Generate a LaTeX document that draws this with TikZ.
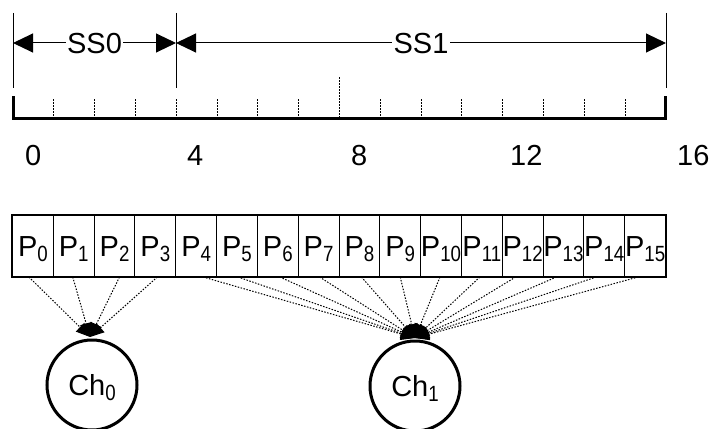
\documentclass[tikz,border=0pt]{standalone}
\usepackage{fontspec}
\setmainfont{Liberation Sans}
\usetikzlibrary{arrows.meta}
% letter with a lowered, smaller, slightly narrowed index
\newcommand\withsub[2]{#1\raisebox{-5pt}{\scalebox{0.85}[1]{\fontsize{22}{22}\selectfont #2}}}
\begin{document}
\begin{tikzpicture}[x=1pt,y=-1pt,
  font=\fontsize{29}{31}\selectfont,
  boundary/.style={line width=1pt},
  span/.style={line width=1pt,{Triangle[length=20pt,width=19pt]}-{Triangle[length=20pt,width=19pt]}},
  spanlabel/.style={fill=white,inner sep=1.5pt,text height=21pt,text depth=0pt},
  ticklabel/.style={anchor=base west,inner sep=0pt},
  minortick/.style={line width=1pt,dash pattern=on 1.5pt off 1.5pt},
  rulerline/.style={line width=3pt},
  cell/.style={draw,line width=1pt,minimum width=40.8125pt,minimum height=61pt,
    inner sep=0pt,anchor=north west,text height=21pt,text depth=0pt},
  channel/.style={draw,circle,line width=3pt,minimum size=90pt,inner sep=0pt,
    text height=21pt,text depth=0pt},
  feed/.style={line width=1pt,dash pattern=on 1.5pt off 1.5pt,
    -{Triangle[length=14pt,width=12pt]}}]

\useasboundingbox (0,0) rectangle (714,428);

% --- subset boundaries and their spans ---
\coordinate (b0top) at (13,13);   \coordinate (b0bot) at (13,88);
\coordinate (b1top) at (176,13);  \coordinate (b1bot) at (176,88);
\coordinate (b2top) at (666,13);  \coordinate (b2bot) at (666,88);
\draw[boundary] (b0top) -- (b0bot);
\draw[boundary] (b1top) -- (b1bot);
\draw[boundary] (b2top) -- (b2bot);

\coordinate (s0a) at (13,43);
\coordinate (s0b) at (176,43);
\coordinate (s1a) at (176,43);
\coordinate (s1b) at (666,43);
\draw[span] (s0a) -- node[spanlabel] (ss0) {SS0} (s0b);
\draw[span] (s1a) -- node[spanlabel] (ss1) {SS1} (s1b);

% --- ruler ---
\coordinate (rl) at (13.5,96);
\coordinate (rr) at (665.5,96);
\draw[rulerline] (rl) -- (13.5,118.5) -- (665.5,118.5) -- (rr);
\foreach \i in {1,...,15}{
  \ifnum\i=8
    \draw[minortick] (13+40.8125*\i,77) -- (13+40.8125*\i,117);
  \else
    \draw[minortick] (13+40.8125*\i,99) -- (13+40.8125*\i,117);
  \fi
}
\node[ticklabel] (n0)  at (25,165)  {0};
\node[ticklabel] (n4)  at (187,165) {4};
\node[ticklabel] (n8)  at (351,165) {8};
\node[ticklabel] (n12) at (510,165) {12};
\node[ticklabel] (n16) at (677,165) {16};

% --- partitions ---
\foreach \i in {0,...,15}{
  \node[cell] (p\i) at (12+40.8125*\i,215) {\withsub{P}{\i}};
}
\draw[line width=1.8pt] (p0.north west) rectangle (p15.south east);

% --- channels ---
\node[channel] (ch0) at (92,385) {\withsub{Ch}{0}};
\node[channel] (ch1) at (415,386) {\withsub{Ch}{1}};
\coordinate (in0) at (90,337);
\coordinate (in1) at (415,338);

\foreach \i/\dx in {0/-4,1/-1,2/5,3/2}{
  \draw[feed] ([xshift=\dx pt]p\i.south) -- (in0);
}
\foreach \i/\dx in {4/7,5/1,6/2,7/1,8/2,9/0,10/-1,11/-2,12/-7,13/-7,14/-8,15/-7}{
  \draw[feed] ([xshift=\dx pt]p\i.south) -- (in1);
}
\end{tikzpicture}
\end{document}
